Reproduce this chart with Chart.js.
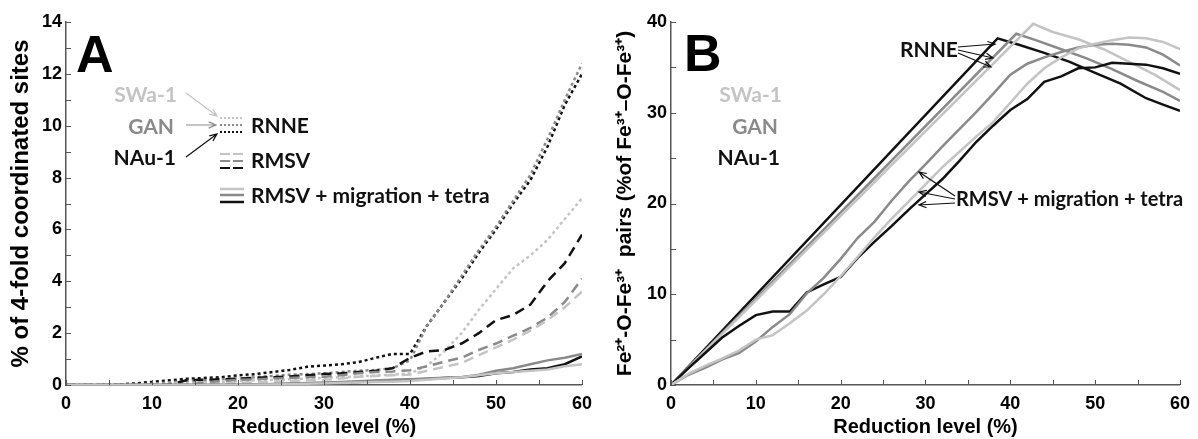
<!DOCTYPE html>
<html>
<head>
<meta charset="utf-8">
<script src="https://cdn.jsdelivr.net/npm/chart.js@4.4.1/dist/chart.umd.min.js"></script>
<style>
    html, body { margin: 0; padding: 0; background: #fff; }
    #wrap { position: relative; width: 1198px; height: 439px; }
    #chartA { position: absolute; left: 0; top: 0; }
    #chartB { position: absolute; left: 600px; top: 0; }
</style>
</head>
<body>
<div id="wrap">
    <canvas id="chartA" width="600" height="439"></canvas>
    <canvas id="chartB" width="598" height="439"></canvas>
</div>
<script>
// ---- DATA: panel A (% of 4-fold coordinated sites) ----
const reductionA = [0, 2, 4, 6, 8, 10, 12, 14, 16, 18, 20, 22, 24, 26, 28, 30, 32, 34, 36, 38, 40, 42, 44, 46, 48, 50, 52, 54, 56, 58, 60];

const rnneSWa  = [0, 0, 0, 0, 0, 0.02, 0.05, 0.08, 0.1, 0.12, 0.15, 0.18, 0.2, 0.22, 0.25, 0.28, 0.3, 0.33, 0.37, 0.4, 0.45, 0.75, 1.3, 2.0, 2.9, 3.7, 4.5, 5.0, 5.6, 6.4, 7.2];
const rnneGAN  = [0, 0, 0, 0, 0, 0.05, 0.1, 0.15, 0.18, 0.22, 0.25, 0.3, 0.35, 0.4, 0.42, 0.45, 0.5, 0.55, 0.58, 0.65, 0.95, 2.3, 3.2, 4.2, 5.2, 6.1, 7.1, 8.1, 9.5, 11.0, 12.4];
const rnneNAu  = [0, 0, 0, 0.02, 0.06, 0.12, 0.18, 0.24, 0.27, 0.3, 0.37, 0.42, 0.5, 0.58, 0.7, 0.75, 0.8, 0.88, 1.05, 1.2, 1.2, 2.3, 3.2, 4.1, 5.1, 6.0, 7.0, 7.9, 9.2, 10.8, 12.0];

const rmsvSWa  = [0, 0, 0, 0, 0, 0, 0, 0, 0, 0.05, 0.08, 0.1, 0.12, 0.15, 0.18, 0.2, 0.25, 0.32, 0.35, 0.38, 0.4, 0.55, 0.7, 0.85, 1.15, 1.45, 1.75, 2.1, 2.5, 3.0, 3.6];
const rmsvGAN  = [0, 0, 0, 0, 0, 0, 0, 0, 0.1, 0.15, 0.2, 0.22, 0.25, 0.27, 0.3, 0.32, 0.38, 0.45, 0.5, 0.52, 0.57, 0.72, 0.9, 1.05, 1.35, 1.6, 1.9, 2.2, 2.6, 3.2, 4.1];
const rmsvNAu  = [0, 0, 0, 0, 0, 0, 0.02, 0.18, 0.2, 0.22, 0.24, 0.28, 0.3, 0.33, 0.38, 0.42, 0.45, 0.5, 0.55, 0.65, 1.05, 1.3, 1.35, 1.6, 2.0, 2.5, 2.7, 3.1, 4.0, 4.7, 5.8];

const tetraSWaA = [0, 0, 0, 0, 0, 0, 0, 0, 0, 0, 0, 0.01, 0.02, 0.03, 0.05, 0.06, 0.08, 0.1, 0.12, 0.13, 0.15, 0.2, 0.25, 0.3, 0.38, 0.45, 0.5, 0.55, 0.6, 0.72, 0.8];
const tetraGANA = [0, 0, 0, 0, 0, 0, 0, 0, 0, 0, 0.01, 0.02, 0.04, 0.06, 0.08, 0.1, 0.12, 0.14, 0.17, 0.2, 0.22, 0.25, 0.28, 0.3, 0.4, 0.55, 0.65, 0.8, 0.95, 1.05, 1.2];
const tetraNAuA = [0, 0, 0, 0, 0, 0, 0, 0, 0, 0, 0, 0.01, 0.02, 0.04, 0.05, 0.06, 0.08, 0.12, 0.15, 0.18, 0.2, 0.23, 0.27, 0.3, 0.35, 0.45, 0.5, 0.6, 0.65, 0.8, 1.1];

// ---- DATA: panel B (Fe2+-O-Fe3+ pairs) ----
const rnneBxSWa = [0, 42.7, 45, 48, 51, 54, 57, 60];
const rnneBSWa  = [0, 39.8, 38.9, 38.1, 37.0, 35.6, 34.2, 32.5];
const rnneBxGAN = [0, 40.7, 43, 46, 49, 52, 55, 58, 60];
const rnneBGAN  = [0, 38.7, 38.0, 37.0, 36.0, 34.8, 33.5, 32.3, 31.3];
const rnneBxNAu = [0, 38.5, 41, 44, 47, 50, 53, 56, 58, 60];
const rnneBNAu  = [0, 38.2, 37.5, 36.6, 35.6, 34.4, 33.2, 31.6, 30.9, 30.2];

const reductionB = [0, 2, 4, 6, 8, 10, 12, 14, 16, 18, 20, 22, 24, 26, 28, 30, 32, 34, 36, 38, 40, 42, 44, 46, 48, 50, 52, 54, 56, 58, 60];
const tetraSWaB = [0, 1.2, 2.1, 2.9, 3.8, 5.0, 5.5, 6.8, 8.2, 10.0, 12.0, 14.1, 16.3, 18.3, 20.2, 22.1, 24.0, 25.7, 27.4, 29.0, 31.1, 33.2, 34.9, 36.1, 37.1, 37.6, 38.0, 38.3, 38.2, 37.8, 37.0];
const tetraGANB = [0, 1.1, 1.9, 2.8, 3.5, 4.8, 6.4, 7.8, 10.1, 11.8, 13.9, 16.2, 18.0, 20.3, 22.4, 24.3, 26.3, 28.2, 30.1, 32.1, 34.2, 35.4, 36.1, 36.7, 37.2, 37.5, 37.6, 37.5, 37.2, 36.4, 35.2];
const tetraNAuB = [0, 1.8, 3.5, 5.2, 6.5, 7.7, 8.1, 8.1, 10.2, 11.1, 11.9, 14.0, 15.8, 17.5, 19.3, 21.0, 22.7, 24.7, 26.8, 28.6, 30.3, 31.5, 33.4, 34.0, 34.9, 35.0, 35.5, 35.4, 35.3, 34.9, 34.3];

const LIGHT = "#c4c4c4";
const MID = "#8a8a8a";
const DARK = "#111111";
const AXIS = "#555555";
const SANS = "'Liberation Sans', Arial, sans-serif";
const TICK_FONT = { family: SANS, size: 18, weight: "bold" };
const NOTE_FONT = "bold 21px Lato, 'Open Sans', sans-serif";
const NOTE_FONT_B = "bold 20px Lato, 'Open Sans', sans-serif";

function pts(xs, ys) {
    return xs.map((x, i) => ({ x: x, y: ys[i] }));
}

function line(xs, ys, color, dash, width) {
    return {
        data: pts(xs, ys),
        borderColor: color,
        borderWidth: width || 2.5,
        borderDash: dash || [],
        borderCapStyle: "butt",
        pointRadius: 0,
        tension: 0,
        fill: false
    };
}

// arrow with open head
function arrow(ctx, x1, y1, x2, y2, color) {
    const ang = Math.atan2(y2 - y1, x2 - x1);
    ctx.strokeStyle = color;
    ctx.lineWidth = 1.2;
    ctx.setLineDash([]);
    ctx.beginPath();
    ctx.moveTo(x1, y1);
    ctx.lineTo(x2, y2);
    ctx.moveTo(x2 - 8 * Math.cos(ang - 0.4), y2 - 8 * Math.sin(ang - 0.4));
    ctx.lineTo(x2, y2);
    ctx.lineTo(x2 - 8 * Math.cos(ang + 0.4), y2 - 8 * Math.sin(ang + 0.4));
    ctx.stroke();
}

function text(ctx, str, x, y, color, align, font) {
    ctx.fillStyle = color;
    ctx.font = font || NOTE_FONT;
    ctx.textAlign = align || "left";
    ctx.textBaseline = "middle";
    ctx.fillText(str, x, y);
}

function seg(ctx, x1, x2, y, color, dash, w) {
    ctx.strokeStyle = color;
    ctx.lineWidth = w;
    ctx.setLineDash(dash);
    ctx.beginPath();
    ctx.moveTo(x1, y);
    ctx.lineTo(x2, y);
    ctx.stroke();
}

// small tick marks drawn inside the plot frame
const innerTicks = {
    id: "innerTicks",
    afterDraw(chart) {
        const ctx = chart.ctx;
        const a = chart.chartArea;
        const sx = chart.scales.x, sy = chart.scales.y;
        ctx.save();
        ctx.strokeStyle = AXIS;
        ctx.lineWidth = 1;
        ctx.beginPath();
        sx.ticks.forEach(t => {
            const px = Math.round(sx.getPixelForValue(t.value)) + 0.5;
            ctx.moveTo(px, a.bottom);
            ctx.lineTo(px, a.bottom - 5);
        });
        sy.ticks.forEach(t => {
            const py = Math.round(sy.getPixelForValue(t.value)) + 0.5;
            ctx.moveTo(a.left, py);
            ctx.lineTo(a.left + 5, py);
        });
        ctx.stroke();
        ctx.restore();
    }
};

function scalesFor(yMax, yStep, yLabelEvery, yTitle, leftWidth, titleSize, titlePad) {
    return {
        x: {
            type: "linear", min: 0, max: 60,
            border: { color: AXIS, width: 1.5 },
            grid: { display: false, drawTicks: false },
            ticks: {
                stepSize: 5, autoSkip: false, padding: 8, color: "#000", font: TICK_FONT,
                callback: v => (v % 10 === 0 ? v : "")
            },
            title: {
                display: true, text: "Reduction level (%)", color: "#000",
                font: { family: SANS, size: 20, weight: "bold" },
                padding: { top: 0, bottom: 0 }
            },
            afterFit: s => { s.height = 54; }
        },
        y: {
            type: "linear", min: 0, max: yMax,
            border: { color: AXIS, width: 1.5 },
            grid: { display: false, drawTicks: false },
            ticks: {
                stepSize: yStep, autoSkip: false, padding: 4, color: "#000", font: TICK_FONT,
                callback: v => (v % yLabelEvery === 0 ? v : "")
            },
            title: {
                display: true, text: yTitle, color: "#000",
                font: { family: SANS, size: titleSize, weight: "bold" },
                padding: { top: titlePad, bottom: 0 }
            },
            afterFit: s => { s.width = leftWidth; }
        }
    };
}

const notesA = {
    id: "notesA",
    afterDraw(chart) {
        const ctx = chart.ctx;
        ctx.save();
        text(ctx, "A", 76, 58, "#000", "left", "bold 52px " + SANS);
        text(ctx, "SWa-1", 177, 95, LIGHT, "right");
        text(ctx, "GAN", 174, 127, MID, "right");
        text(ctx, "NAu-1", 176, 158, DARK, "right");
        arrow(ctx, 186, 93, 217, 116, LIGHT);
        arrow(ctx, 186, 125, 216, 125, MID);
        arrow(ctx, 186, 157, 217, 134, DARK);
        // key swatches
        seg(ctx, 220, 244, 118, LIGHT, [2, 2], 2);
        seg(ctx, 220, 244, 125, MID, [2, 2], 2);
        seg(ctx, 220, 244, 132, DARK, [2, 2], 2);
        seg(ctx, 220, 244, 154, LIGHT, [10, 3], 2.2);
        seg(ctx, 220, 244, 161, MID, [10, 3], 2.2);
        seg(ctx, 220, 244, 168, DARK, [10, 3], 2.2);
        seg(ctx, 220, 244, 189, LIGHT, [], 2.5);
        seg(ctx, 220, 244, 195, MID, [], 2.5);
        seg(ctx, 220, 244, 202, DARK, [], 2.5);
        text(ctx, "RNNE", 251, 126, DARK);
        text(ctx, "RMSV", 251, 161, DARK);
        text(ctx, "RMSV + migration + tetra", 251, 196, DARK);
        ctx.restore();
    }
};

const notesB = {
    id: "notesB",
    afterDraw(chart) {
        const ctx = chart.ctx;
        ctx.save();
        text(ctx, "B", 84, 57, "#000", "left", "bold 52px " + SANS);
        text(ctx, "SWa-1", 182, 95, LIGHT, "right");
        text(ctx, "GAN", 178, 127, MID, "right");
        text(ctx, "NAu-1", 180, 158, DARK, "right");
        text(ctx, "RNNE", 300, 50, DARK);
        arrow(ctx, 358, 47, 395, 44, DARK);
        arrow(ctx, 358, 50, 393, 58, DARK);
        arrow(ctx, 358, 53, 391, 67, DARK);
        text(ctx, "RMSV + migration + tetra", 356, 200, DARK, "left", NOTE_FONT_B);
        arrow(ctx, 355, 196, 319, 172, DARK);
        arrow(ctx, 355, 199, 319, 192, DARK);
        arrow(ctx, 355, 203, 319, 205, DARK);
        ctx.restore();
    }
};

const DOT = [3, 3];
const DASH = [10, 6];

new Chart(document.getElementById("chartA"), {
    type: "line",
    data: {
        datasets: [
            line(reductionA, tetraSWaA, LIGHT),
            line(reductionA, tetraGANA, MID),
            line(reductionA, tetraNAuA, DARK),
            line(reductionA, rmsvSWa, LIGHT, DASH),
            line(reductionA, rmsvGAN, MID, DASH),
            line(reductionA, rmsvNAu, DARK, DASH),
            line(reductionA, rnneSWa, LIGHT, DOT),
            line(reductionA, rnneGAN, MID, DOT),
            line(reductionA, rnneNAu, DARK, DOT)
        ]
    },
    options: {
        responsive: false,
        animation: false,
        layout: { padding: { left: 0, right: 18, top: 22, bottom: 0 } },
        plugins: { legend: { display: false }, tooltip: { enabled: false } },
        scales: scalesFor(14, 1, 2, "% of 4-fold coordinated sites", 66, 24, 7)
    },
    plugins: [innerTicks, notesA]
});

new Chart(document.getElementById("chartB"), {
    type: "line",
    data: {
        datasets: [
            line(reductionB, tetraSWaB, LIGHT),
            line(reductionB, tetraGANB, MID),
            line(reductionB, tetraNAuB, DARK),
            line(rnneBxSWa, rnneBSWa, LIGHT),
            line(rnneBxGAN, rnneBGAN, MID),
            line(rnneBxNAu, rnneBNAu, DARK)
        ]
    },
    options: {
        responsive: false,
        animation: false,
        layout: { padding: { left: 0, right: 13, top: 22, bottom: 0 } },
        plugins: { legend: { display: false }, tooltip: { enabled: false } },
        scales: scalesFor(40, 5, 10, "Fe\u00B2\u207A-O-Fe\u00B3\u207A  pairs (%of Fe\u00B3\u207A\u2013O-Fe\u00B3\u207A)", 71, 21, 13)
    },
    plugins: [innerTicks, notesB]
});
</script>
</body>
</html>
